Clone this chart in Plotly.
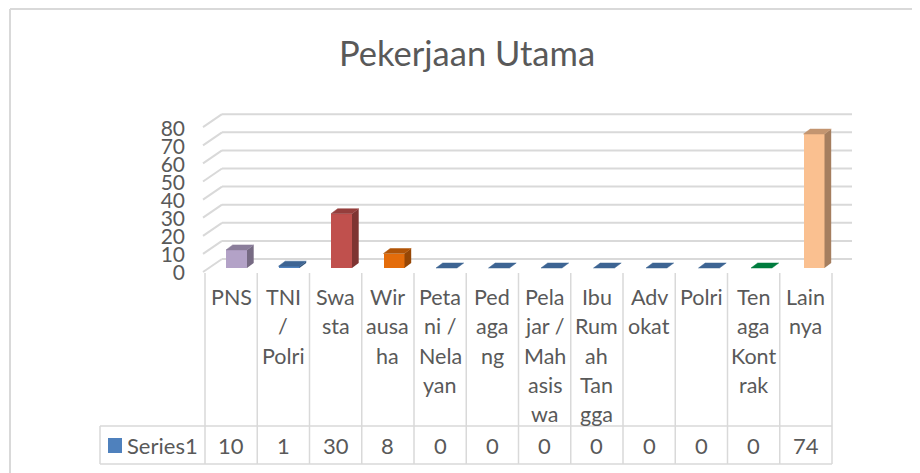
import plotly.graph_objects as go

# ---------------- data ----------------
title_text = "Pekerjaan Utama"
series_name = "Series1"
categories = ["PNS", "TNI / Polri", "Swasta", "Wirausaha", "Petani / Nelayan", "Pedagang",
              "Pelajar / Mahasiswa", "Ibu Rumah Tangga", "Advokat", "Polri",
              "Tenaga Kontrak", "Lainnya"]
category_labels = ["PNS", "TNI<br>/<br>Polri", "Swa<br>sta", "Wir<br>ausa<br>ha",
                   "Peta<br>ni /<br>Nela<br>yan", "Ped<br>aga<br>ng",
                   "Pela<br>jar /<br>Mah<br>asis<br>wa", "Ibu<br>Rum<br>ah<br>Tan<br>gga",
                   "Adv<br>okat", "Polri", "Ten<br>aga<br>Kont<br>rak", "Lain<br>nya"]
values = [10, 1, 30, 8, 0, 0, 0, 0, 0, 0, 0, 74]
y_ticks = [0, 10, 20, 30, 40, 50, 60, 70, 80]

# ---------------- styles ----------------
front_colors = ["#B3A2C7", "#4F81BD", "#C0504D", "#E46C0A", "#4F81BD", "#4F81BD",
                "#4F81BD", "#4F81BD", "#4F81BD", "#4F81BD", "#00A050", "#FAC090"]
TXT = "#595959"
GRID = "#D9D9D9"
FONT = "Lato"
W, H = 920, 473
OFF = 8  # page body margin offset


def shade(hexc, f):
    hexc = hexc.lstrip("#")
    r, g, b = (int(hexc[i:i + 2], 16) for i in (0, 2, 4))
    return "#%02X%02X%02X" % (int(r * f), int(g * f), int(b * f))


def fx(px):
    return (px - OFF) / W


def fy(py):
    return 1 - (py - OFF) / H


# pixel geometry of the plot (in screen pixels)
X_DOM_PX = (186, 880)
BAR0_PX, CAT_PX = 236.5, 52.5
ZERO_PY, PX_PER_UNIT = 268, 1.81
Y_DOM_PY = (300, 90)  # bottom, top (from top of page)

xr = [(X_DOM_PX[0] - BAR0_PX) / CAT_PX, (X_DOM_PX[1] - BAR0_PX) / CAT_PX]
yr = [(ZERO_PY - Y_DOM_PY[0]) / PX_PER_UNIT, (ZERO_PY - Y_DOM_PY[1]) / PX_PER_UNIT]

half_w = 10.5 / CAT_PX
ddx = 6.7 / CAT_PX
ddy = 5.0 / PX_PER_UNIT
back_dy = 9.0 / PX_PER_UNIT
front_dy = -4.0 / PX_PER_UNIT
grid_x0 = (222 - BAR0_PX) / CAT_PX
grid_x1 = (852 - BAR0_PX) / CAT_PX
diag_x0 = (203 - BAR0_PX) / CAT_PX

idx = list(range(len(categories)))

fig = go.Figure()

# front faces
fig.add_trace(go.Bar(x=idx, y=values, width=2 * half_w,
                     marker=dict(color=front_colors, line=dict(width=0)),
                     hoverinfo="skip", showlegend=False))

# top & side faces
for i, v in zip(idx, values):
    c = front_colors[i]
    xl, xrr = i - half_w, i + half_w
    if v > 0:
        fig.add_trace(go.Scatter(
            x=[xrr, xrr, xrr + ddx, xrr + ddx, xrr], y=[0, v, v + ddy, ddy, 0],
            mode="lines", fill="toself", fillcolor=shade(c, 0.66), line=dict(width=0),
            hoverinfo="skip", showlegend=False))
    top_col = shade(c, 0.78)
    fig.add_trace(go.Scatter(
        x=[xl, xrr, xrr + ddx, xl + ddx, xl], y=[v, v, v + ddy, v + ddy, v],
        mode="lines", fill="toself", fillcolor=top_col, line=dict(width=0.5, color=top_col),
        hoverinfo="skip", showlegend=False))

shapes = []
# gridlines (back wall + side wall diagonals)
for t in y_ticks:
    shapes.append(dict(type="line", xref="x", yref="y", x0=grid_x0, x1=grid_x1,
                       y0=t + back_dy, y1=t + back_dy, line=dict(color=GRID, width=2), layer="below"))
    shapes.append(dict(type="line", xref="x", yref="y", x0=diag_x0, x1=grid_x0,
                       y0=t + front_dy, y1=t + back_dy, line=dict(color=GRID, width=2), layer="below"))

# outer border (left and top)
shapes.append(dict(type="line", xref="paper", yref="paper", x0=fx(10), x1=fx(10), y0=fy(9), y1=fy(H + 20),
                   line=dict(color=GRID, width=2)))
shapes.append(dict(type="line", xref="paper", yref="paper", x0=fx(10), x1=fx(W + 20), y0=fy(9), y1=fy(9),
                   line=dict(color=GRID, width=2)))

# data table
TBL_L, TBL_CELL = 205, 52.25
TBL_TOP, ROW_TOP, ROW_BOT = 273, 426, 464
SER_L = 100
LINE1_Y, LINE_STEP = 297, 29.3
n = len(categories)
for k in range(n + 1):
    xk = TBL_L + TBL_CELL * k
    shapes.append(dict(type="line", xref="paper", yref="paper", x0=fx(xk), x1=fx(xk),
                       y0=fy(TBL_TOP), y1=fy(ROW_BOT), line=dict(color=GRID, width=1.5)))
for yy in (ROW_TOP, ROW_BOT):
    shapes.append(dict(type="line", xref="paper", yref="paper", x0=fx(SER_L), x1=fx(TBL_L + TBL_CELL * n),
                       y0=fy(yy), y1=fy(yy), line=dict(color=GRID, width=1.5)))
shapes.append(dict(type="line", xref="paper", yref="paper", x0=fx(SER_L), x1=fx(SER_L),
                   y0=fy(ROW_TOP), y1=fy(ROW_BOT), line=dict(color=GRID, width=1.5)))
# legend key
shapes.append(dict(type="rect", xref="paper", yref="paper", x0=fx(108), x1=fx(122), y0=fy(453), y1=fy(438),
                   fillcolor="#4F81BD", line=dict(width=0)))

annotations = []
for i, lab in enumerate(category_labels):
    cx = TBL_L + TBL_CELL * (i + 0.5)
    for j, part in enumerate(lab.split("<br>")):
        annotations.append(dict(xref="paper", yref="paper", x=fx(cx), y=fy(LINE1_Y + LINE_STEP * j),
                                xanchor="center", yanchor="middle", text=part, showarrow=False,
                                font=dict(family=FONT, size=21.5, color=TXT)))
    annotations.append(dict(xref="paper", yref="paper", x=fx(cx), y=fy((ROW_TOP + ROW_BOT) / 2),
                            xanchor="center", yanchor="middle", text=str(values[i]), showarrow=False,
                            font=dict(family=FONT, size=22, color=TXT)))
annotations.append(dict(xref="paper", yref="paper", x=fx(125), y=fy((ROW_TOP + ROW_BOT) / 2),
                        xanchor="left", yanchor="middle", text=series_name, showarrow=False,
                        font=dict(family=FONT, size=22, color=TXT)))
annotations.append(dict(xref="paper", yref="paper", x=fx(467), y=fy(53), xanchor="center", yanchor="middle",
                        text=title_text, showarrow=False, font=dict(family=FONT, size=34.5, color=TXT)))

fig.update_layout(
    width=W, height=H, margin=dict(l=0, r=0, t=0, b=0),
    paper_bgcolor="white", plot_bgcolor="rgba(0,0,0,0)",
    showlegend=False, bargap=0,
    xaxis=dict(domain=[fx(X_DOM_PX[0]), fx(X_DOM_PX[1])], range=xr, showgrid=False, zeroline=False,
               showticklabels=False, showline=False, ticks="", fixedrange=True),
    yaxis=dict(domain=[fy(Y_DOM_PY[0]), fy(Y_DOM_PY[1])], range=yr, showgrid=False, zeroline=False,
               tickvals=y_ticks, ticktext=[str(t) for t in y_ticks], ticks="", showline=False,
               ticklabelshift=5, tickfont=dict(family=FONT, size=21, color=TXT), fixedrange=True),
    shapes=shapes, annotations=annotations,
)

fig.write_html("out.html")
